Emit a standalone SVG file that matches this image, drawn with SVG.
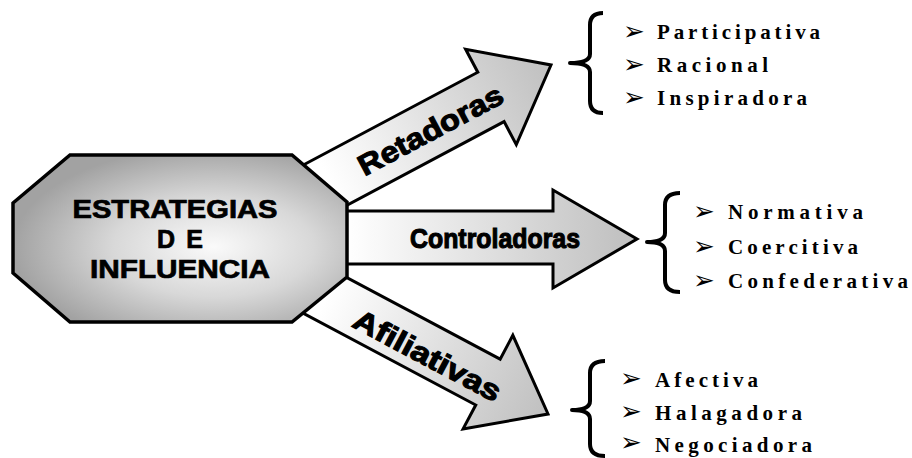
<svg xmlns="http://www.w3.org/2000/svg" width="912" height="458" viewBox="0 0 912 458">
  <defs>
    <radialGradient id="octGrad" cx="0.6" cy="0.55" r="0.6">
      <stop offset="0" stop-color="#fafafa"/>
      <stop offset="0.5" stop-color="#d8d8d8"/>
      <stop offset="1" stop-color="#a2a2a2"/>
    </radialGradient>
    <linearGradient id="diagGrad" gradientUnits="userSpaceOnUse" x1="-250" y1="0" x2="-10" y2="0">
      <stop offset="0" stop-color="#ffffff"/>
      <stop offset="1" stop-color="#c2c2c2"/>
    </linearGradient>
    <linearGradient id="horizGrad" gradientUnits="userSpaceOnUse" x1="347" y1="0" x2="620" y2="0">
      <stop offset="0" stop-color="#ffffff"/>
      <stop offset="1" stop-color="#c2c2c2"/>
    </linearGradient>
  </defs>
  <style>
    .arrow { stroke: #000; stroke-width: 3; stroke-linejoin: miter; }
    .arrowLabel { font-family: "Liberation Sans", Arial, sans-serif; font-weight: bold; fill: #000; stroke: #000; stroke-width: 1.1; }
    .center { font-family: "Liberation Sans", Arial, sans-serif; font-weight: bold; font-size: 25px; fill: #000; stroke: #000; stroke-width: 0.7; text-anchor: middle; }
    .item { font-family: "Liberation Serif", "Times New Roman", serif; font-weight: bold; font-size: 21px; fill: #000; }
    .bullet { font-family: "DejaVu Sans", sans-serif; font-size: 26px; fill: #000; }
    .brace { fill: none; stroke: #000; stroke-width: 4; stroke-linecap: butt; stroke-linejoin: round; }
  </style>

  <g id="connectors">
    <g id="arrow-retadoras" transform="translate(551,65) rotate(-28)">
      <polygon class="arrow" fill="url(#diagGrad)" points="-320,-28 -68,-28 -68,-54 0,0 -68,54 -68,28 -320,28"/>
      <text class="arrowLabel" x="-137" y="11" font-size="29" text-anchor="middle" textLength="160" lengthAdjust="spacingAndGlyphs">Retadoras</text>
    </g>
    <g id="arrow-controladoras">
      <polygon class="arrow" fill="url(#horizGrad)" points="330,211 553,211 553,190 637,239 553,288 553,264 330,264"/>
      <text class="arrowLabel" x="495" y="248" font-size="27" text-anchor="middle" textLength="170" lengthAdjust="spacingAndGlyphs">Controladoras</text>
    </g>
    <g id="arrow-afiliativas" transform="translate(548,414) rotate(28)">
      <polygon class="arrow" fill="url(#diagGrad)" points="-310,-26 -68,-26 -68,-53 0,0 -68,53 -68,26 -310,26"/>
      <text class="arrowLabel" x="-134" y="15" font-size="29" text-anchor="middle" textLength="163" lengthAdjust="spacingAndGlyphs">Afiliativas</text>
    </g>
  </g>

  <g id="node-estrategias">
    <polygon points="70,155 292,155 347,202 347,277 292,322 70,322 13,273 13,203" fill="url(#octGrad)" stroke="#000" stroke-width="3.5"/>
    <text class="center" x="175" y="218" textLength="205" lengthAdjust="spacingAndGlyphs">ESTRATEGIAS</text>
    <text class="center" x="180" y="248" textLength="46" lengthAdjust="spacing">DE</text>
    <text class="center" x="180" y="278" textLength="180" lengthAdjust="spacingAndGlyphs">INFLUENCIA</text>
  </g>

  <g id="node-retadoras-list">
    <path class="brace" d="M603,13 Q590,13 590,25 L590,54 Q590,63 570,63 Q590,63 590,72 L590,101 Q590,113 603,113"/>
    <text class="bullet" x="623" y="40">➢</text>
    <text class="bullet" x="623" y="73">➢</text>
    <text class="bullet" x="623" y="106">➢</text>
    <text class="item" x="657" y="39" textLength="163" lengthAdjust="spacing">Participativa</text>
    <text class="item" x="657" y="72" textLength="111" lengthAdjust="spacing">Racional</text>
    <text class="item" x="657" y="105" textLength="150" lengthAdjust="spacing">Inspiradora</text>
  </g>

  <g id="node-controladoras-list">
    <path class="brace" d="M680,193 Q665,193 665,205 L665,233 Q665,242 647,242 Q665,242 665,251 L665,280 Q665,292 680,292"/>
    <text class="bullet" x="693" y="220">➢</text>
    <text class="bullet" x="693" y="255">➢</text>
    <text class="bullet" x="693" y="289">➢</text>
    <text class="item" x="728" y="219" textLength="135" lengthAdjust="spacing">Normativa</text>
    <text class="item" x="728" y="254" textLength="130" lengthAdjust="spacing">Coercitiva</text>
    <text class="item" x="728" y="288" textLength="180" lengthAdjust="spacing">Confederativa</text>
  </g>

  <g id="node-afiliativas-list">
    <path class="brace" d="M605,361 Q590,361 590,373 L590,401 Q590,410 572,410 Q590,410 590,419 L590,444 Q590,456 605,456"/>
    <text class="bullet" x="620" y="387">➢</text>
    <text class="bullet" x="620" y="420">➢</text>
    <text class="bullet" x="620" y="451">➢</text>
    <text class="item" x="655" y="387" textLength="103" lengthAdjust="spacing">Afectiva</text>
    <text class="item" x="655" y="420" textLength="147" lengthAdjust="spacing">Halagadora</text>
    <text class="item" x="655" y="452" textLength="157" lengthAdjust="spacing">Negociadora</text>
  </g>
</svg>
